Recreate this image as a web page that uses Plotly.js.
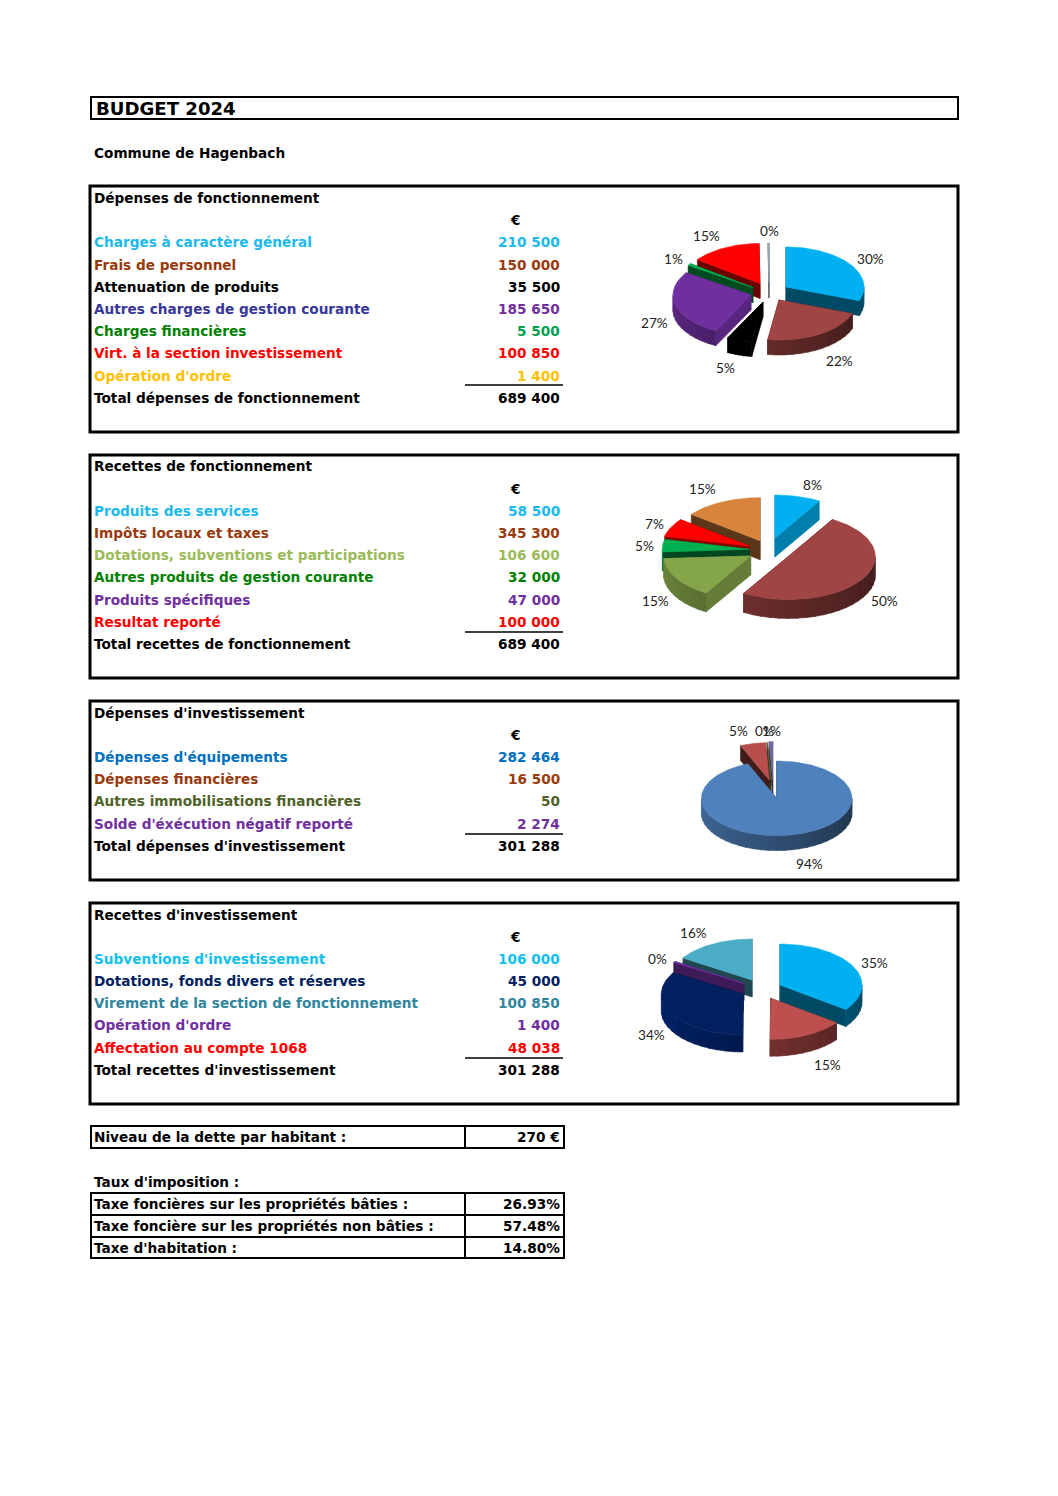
<!DOCTYPE html>
<html lang="fr"><head><meta charset="utf-8">
<script src="https://cdn.plot.ly/plotly-3.0.1.min.js"></script>
<style>html,body{margin:0;padding:0;background:#fff}#page{width:1058px;height:1496px}</style>
</head><body><div id="page"></div>
<script>
// ---------- DATA ----------
const pageTitle = "BUDGET 2024";
const commune = "Commune de Hagenbach";

const df_heading = "Dépenses de fonctionnement";
const df_categories = ["Charges à caractère général","Frais de personnel","Attenuation de produits","Autres charges de gestion courante","Charges financières","Virt. à la section investissement","Opération d'ordre"];
const df_values = [210500,150000,35500,185650,5500,100850,1400];
const df_pct = ["30%","22%","5%","27%","1%","15%","0%"];
const df_totalLabel = "Total dépenses de fonctionnement";
const df_total = 689400;

const rf_heading = "Recettes de fonctionnement";
const rf_categories = ["Produits des services","Impôts locaux et taxes","Dotations, subventions et participations","Autres produits de gestion courante","Produits spécifiques","Resultat reporté"];
const rf_values = [58500,345300,106600,32000,47000,100000];
const rf_pct = ["8%","50%","15%","5%","7%","15%"];
const rf_totalLabel = "Total recettes de fonctionnement";
const rf_total = 689400;

const di_heading = "Dépenses d'investissement";
const di_categories = ["Dépenses d'équipements","Dépenses financières","Autres immobilisations financières","Solde d'éxécution négatif reporté"];
const di_values = [282464,16500,50,2274];
const di_pct = ["94%","5%","0%","1%"];
const di_totalLabel = "Total dépenses d'investissement";
const di_total = 301288;

const ri_heading = "Recettes d'investissement";
const ri_categories = ["Subventions d'investissement","Dotations, fonds divers et réserves","Virement de la section de fonctionnement","Opération d'ordre","Affectation au compte 1068"];
const ri_values = [106000,45000,100850,1400,48038];
const ri_pct = ["35%","15%","34%","0%","16%"];
const ri_totalLabel = "Total recettes d'investissement";
const ri_total = 301288;

const detteLabel = "Niveau de la dette par habitant :";
const detteValue = "270 €";
const tauxHeading = "Taux d'imposition :";
const tauxLabels = ["Taxe foncières sur les propriétés bâties :","Taxe foncière sur les propriétés non bâties :","Taxe d'habitation :"];
const tauxValues = ["26.93%","57.48%","14.80%"];

// ---------- STYLE / LAYOUT ----------
const CY="#1ab9ef", BR="#993a0c", RD="#ff0000", PU="#7030a0", GN="#008000";
const sections = [
 {head:df_heading,cats:df_categories,vals:df_values,pct:df_pct,totL:df_totalLabel,tot:df_total,
  box:[90,186,958,432],headY:198,unitY:220,rowY:[242,265,287,309,331,353,376],totY:398,ruleY:385,
  labCol:[CY,BR,"#000","#37379a",GN,RD,"#ffc000"],valCol:[CY,BR,"#000",PU,"#00a050",RD,"#ffc000"],
  pie:{rx:78,ry:40,d:15,order:[6,5,0,4,3,1,2],
   apex:[[786,287],[779,300],[763,302],[751,295],[753,287.5],[760,283.5],[769,283]],
   col:["#00b0f0","#a04543","#000000","#6f2f9f","#00b050","#ff0000","#9aa9bd"],
   face:[.42,.42,.42,.8,.42,.42,.5],wall:[1,1,1,1,1,1,1],
   lab:[[870.5,259],[839.5,361],[725.5,368],[654,323],[673.5,259],[706.5,236],[769.5,231]]}},
 {head:rf_heading,cats:rf_categories,vals:rf_values,pct:rf_pct,totL:rf_totalLabel,tot:rf_total,
  box:[90,455,958,678],headY:466,unitY:489,rowY:[511,533,555,577,600,622],totY:644,ruleY:632,
  labCol:[CY,BR,"#9bbb59",GN,PU,RD],valCol:[CY,BR,"#9bbb59",GN,PU,RD],
  pie:{rx:87,ry:43,d:19,order:[5,4,0,3,2,1],
   apex:[[775,538],[788.3,556.5],[750.7,556],[749.3,549.3],[749.3,546],[760,540.7]],
   col:["#00b0f0","#a04543","#85a54a","#00b050","#ff0000","#d8843c"],
   face:[.72,.42,.75,.4,.55,.42],wall:[1,1,1,1,1,1],
   lab:[[812.5,485],[884,601],[655.5,601],[644.5,546],[654.5,524],[702,489]]}},
 {head:di_heading,cats:di_categories,vals:di_values,pct:di_pct,totL:di_totalLabel,tot:di_total,
  box:[90,701,958,880],headY:713,unitY:735,rowY:[757,779,801,824],totY:846,ruleY:834,
  labCol:["#0070c0",BR,"#4f6228",PU],valCol:["#0070c0",BR,"#4f6228",PU],
  pie:{rx:75.3,ry:37.3,d:15,order:[3,2,1,0],
   apex:[[776.7,798.3],[769.3,780],[771,780],[772.7,779]],
   col:["#4f81bd","#b84f4c","#5e7530","#7464a2"],
   face:[.42,.35,.42,.42],wall:[1,1,1,1],
   lab:[[809.5,864],[738.5,731],[764,731],[771,731]]}},
 {head:ri_heading,cats:ri_categories,vals:ri_values,pct:ri_pct,totL:ri_totalLabel,tot:ri_total,
  box:[90,903,958,1104],headY:915,unitY:937,rowY:[959,981,1003,1025,1048],totY:1070,ruleY:1058,
  labCol:["#0fc0ee","#002060","#31859c",PU,RD],valCol:["#0fc0ee","#002060","#31859c",PU,RD],
  pie:{rx:82,ry:41,d:17,order:[4,0,3,2,1],
   apex:[[780,985],[770.7,998.3],[743.3,994],[744,983.5],[752,980]],
   col:["#00b0f0","#bd504e","#002060","#7030a0","#4bacc6"],
   face:[.42,.42,.7,.55,.42],wall:[1,1,1.35,1,1],
   lab:[[874.5,963],[827,1065],[651.5,1035],[657,959],[693,933]]}}
];
const TXT = 13.65, FAM = '"DejaVu Sans", Verdana, sans-serif';

// ---------- HELPERS ----------
const fmt = n => String(n).replace(/\B(?=(\d{3})+$)/g,"\u00a0");
function hex(c){c=c.replace('#','');if(c.length===3)c=c.split('').map(s=>s+s).join('');return [0,2,4].map(i=>parseInt(c.substr(i,2),16));}
const shade=(c,f)=>{const[r,g,b]=hex(c);const m=v=>Math.min(255,Math.round(v*f));return `rgb(${m(r)},${m(g)},${m(b)})`;};
const rad=d=>d*Math.PI/180;

const traces=[], annotations=[], shapes=[];
const poly=(xs,ys,color)=>traces.push({type:'scatter',mode:'lines',x:[...xs,xs[0]],y:[...ys,ys[0]],fill:'toself',fillcolor:color,
   line:{color:color,width:.6},hoverinfo:'skip',showlegend:false});

function drawPie(vals,p){
  const sum=vals.reduce((a,b)=>a+b,0);
  let acc=0;
  const sl=vals.map((v,i)=>{const a=acc/sum*360;acc+=v;return {i,a,b:acc/sum*360};});
  p.order.map(k=>sl[k]).forEach(s=>{
    const [ax,ay]=p.apex[s.i],c=p.col[s.i];
    const px=t=>ax+p.rx*Math.sin(rad(t)),py=t=>ay-p.ry*Math.cos(rad(t));
    // cut faces
    [s.a,s.b].forEach(t=>poly([ax,px(t),px(t),ax],[ay,py(t),py(t)+p.d,ay+p.d],shade(c,p.face[s.i])));
    // outer wall, strip by strip
    const lo=Math.max(s.a,90),hi=Math.min(s.b,270);
    for(let t=lo;t<hi;t+=6){
      const e=Math.min(t+6.5,hi),f=(.38+.44*((t+e)/2-90)/180)*p.wall[s.i];
      const xs=[],ys=[];
      for(let u=t;u<=e;u+=1.5){xs.push(px(u));ys.push(py(u));}
      xs.push(px(e));ys.push(py(e));
      xs.push(px(e));ys.push(py(e)+p.d);
      for(let u=e;u>=t;u-=1.5){xs.push(px(u));ys.push(py(u)+p.d);}
      xs.push(px(t));ys.push(py(t)+p.d);
      poly(xs,ys,shade(c,f));
    }
    // top
    const xs=[ax],ys=[ay];
    for(let u=s.a;u<s.b;u+=1.5){xs.push(px(u));ys.push(py(u));}
    xs.push(px(s.b));ys.push(py(s.b));
    poly(xs,ys,c);
  });
}
const T=(text,x,y,o={})=>annotations.push({text,x,y,xref:'x',yref:'y',showarrow:false,xanchor:o.a||'left',yanchor:'middle',
   borderpad:0,font:{family:o.fam||FAM,size:o.s||TXT,color:o.c||'#000',weight:o.w===undefined?700:o.w}});
const box=(x0,y0,x1,y1,w)=>shapes.push({type:'rect',xref:'x',yref:'y',x0,y0,x1,y1,line:{color:'#000',width:w},fillcolor:'rgba(0,0,0,0)'});
const rule=(x0,y0,x1,y1,w)=>shapes.push({type:'line',xref:'x',yref:'y',x0,y0,x1,y1,line:{color:'#000',width:w}});

// ---------- BUILD ----------
box(91,97,958,119,2);
T(pageTitle,94.5,108.5,{s:18.1});
T(commune,93,153);
sections.forEach(s=>{
  box(s.box[0],s.box[1],s.box[2],s.box[3],3);
  T(s.head,93,s.headY);
  T("€",515,s.unitY,{a:'center'});
  s.cats.forEach((c,i)=>{T(c,93,s.rowY[i],{c:s.labCol[i]});T(fmt(s.vals[i]),561,s.rowY[i],{a:'right',c:s.valCol[i]});});
  rule(465,s.ruleY,563,s.ruleY,1.5);
  T(s.totL,93,s.totY);T(fmt(s.tot),561,s.totY,{a:'right'});
  drawPie(s.vals,s.pie);
  s.pct.forEach((t,i)=>T(t,s.pie.lab[i][0],s.pie.lab[i][1],{a:'center',fam:'Lato, "Open Sans", sans-serif',s:13.6,c:'#222',w:400}));
});
box(91,1126,564,1148,2);rule(465,1126,465,1148,2);
T(detteLabel,93,1137);T(detteValue,561,1137,{a:'right'});
T(tauxHeading,93,1182);
box(91,1193,564,1258,2);rule(465,1193,465,1258,2);rule(91,1215,564,1215,2);rule(91,1237,564,1237,2);
[1204,1226,1248].forEach((y,i)=>{T(tauxLabels[i],93,y);T(tauxValues[i],561,y,{a:'right'});});

Plotly.newPlot('page',traces,{
  width:1058,height:1496,margin:{l:0,r:0,t:0,b:0,pad:0},paper_bgcolor:'#fff',plot_bgcolor:'#fff',showlegend:false,
  xaxis:{range:[0,1058],visible:false,fixedrange:true},
  yaxis:{range:[1496,0],visible:false,fixedrange:true},
  annotations,shapes,hovermode:false
},{staticPlot:true,displayModeBar:false});
</script></body></html>
